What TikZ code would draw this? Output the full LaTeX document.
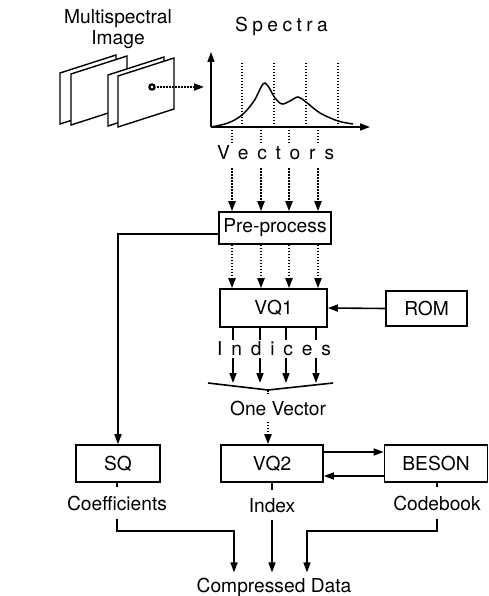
\documentclass[tikz,border=0pt]{standalone}
\usepackage{fontspec}
\setmainfont{TeX Gyre Heros}
\newfontfamily\widefont[LetterSpace=46]{TeX Gyre Heros}
\newfontfamily\spfont[LetterSpace=23]{TeX Gyre Heros}
\usetikzlibrary{arrows.meta}

\begin{document}
\begin{tikzpicture}[x=1pt,y=-1pt,font=\fontsize{19.2}{21}\selectfont,
    box/.style={draw, line width=1.6pt, inner sep=0pt, minimum height=37pt},
    arr/.style={line width=1.6pt, -{Triangle[length=10pt,width=7pt]}},
    dotarr/.style={arr, dash pattern=on 1.5pt off 1.5pt, line width=2pt},
    dotln/.style={dash pattern=on 1.5pt off 1.5pt, line width=2pt},
    lbl/.style={inner xsep=0pt, inner ysep=8pt, anchor=base}]
        \useasboundingbox (0,0) rectangle (489,596);
        % Bilder
        \node[align=center, inner sep=0pt] (title) at (118,29) {Multispectral\\Image};
        \foreach \x/\y in {60/73, 71/74, 108/75, 118/76} {
            \filldraw[fill=white, line width=1.4pt] (\x,\y) -- ++(56,-18) -- ++(0,51) -- ++(-56,18) -- cycle;
        }
        \coordinate (pix) at (152,87);
        \draw[line width=2.2pt] (pix) circle (2.6);
        % Spektrum
        \node[anchor=base west, inner sep=0pt] (spec) at (235,32) {\spfont Spectra};
        \coordinate (org) at (211,127);
        \coordinate (spy) at (211,52);
        \coordinate (spx) at (370,127);
        \draw[dotarr] ([xshift=5pt]pix) -- (204,87);
        \draw[arr] (org) -- (spy);
        \draw[arr] (org) -- (spx);
        \foreach \x in {242,274,306,338} {
            \draw[dotln] (\x,63) -- (\x,0 |- org);
        }
        \draw[line width=1.5pt] plot[smooth, tension=0.55] coordinates {(211,127) (228,123) (242,115) (254,101) (263,84) (268,86) (275,98) (282,104) (290,101) (298,97) (306,102) (320,113) (338,121) (353,124)};
        \node[anchor=base west, inner sep=0pt] (vec) at (217,160) {\widefont Vectors};
        % Pre-process und VQ1
        \node[box, minimum width=112pt, minimum height=32pt] (pre) at (275,228) {Pre-process};
        \node[box, minimum width=107pt, minimum height=38pt] (vqa) at (273.5,308) {VQ1};
        \node[box, minimum width=81pt, minimum height=35pt] (rom) at (426.5,308.5) {ROM};
        \foreach \x in {232,261,289,318} {
            \draw[dotln] (\x,130) -- (\x,143);
            \draw[dotarr] (\x,168) -- (\x,0 |- pre.north);
            \draw[dotarr] (\x,0 |- pre.south) -- (\x,0 |- vqa.north);
        }
        \draw[arr] (rom.west) -- (vqa.east);
        \node[anchor=base west, inner sep=0pt] (ind) at (217,355) {\widefont Indices};
        \foreach \x in {233,260,286,316} {
            \draw[line width=1.6pt] (\x,0 |- vqa.south) -- (\x,340);
            \draw[arr] (\x,358) -- (\x,383);
        }
        % Zusammenfassung
        \coordinate (fun) at (268,390);
        \draw[line width=1.6pt] (208,383) -- (fun) -- (333,383);
        \node[lbl, inner ysep=6pt] (one) at (278,415) {One Vector};
        \node[box, minimum width=84pt] (sq) at (118,463.5) {SQ};
        \node[box, minimum width=102pt] (vqb) at (272,463.5) {VQ2};
        \node[box, minimum width=103pt] (beson) at (436,463.5) {BESON};
        \draw[dotln] (fun) -- (one.north -| fun);
        \draw[dotarr] (one.south -| fun) -- (vqb.north -| fun);
        \draw[arr] ([yshift=-6pt]pre.west) -| (sq.north);
        \draw[arr] ([yshift=11.5pt]vqb.east) -- ([yshift=11.5pt]beson.west);
        \draw[arr] ([yshift=-12.5pt]beson.west) -- ([yshift=-12.5pt]vqb.east);
        % Ausgabe
        \node[lbl] (coef) at (117,510) {Coefficients};
        \node[lbl] (idx) at (272,512) {Index};
        \node[lbl] (cb) at (437,510) {Codebook};
        \node[lbl, inner ysep=5pt] (comp) at (274,592) {Compressed Data};
        \draw[line width=1.6pt] (sq.south -| coef) -- (coef.north);
        \draw[line width=1.6pt] (vqb.south -| idx) -- (idx.north);
        \draw[line width=1.6pt] (beson.south -| cb) -- (cb.north);
        \draw[arr] (coef.south) |- (234,531) -- (234,0 |- comp.north);
        \draw[arr] (idx.south) -- (idx.south |- comp.north);
        \draw[arr] (cb.south) |- (307,531) -- (307,0 |- comp.north);
\end{tikzpicture}
\end{document}
